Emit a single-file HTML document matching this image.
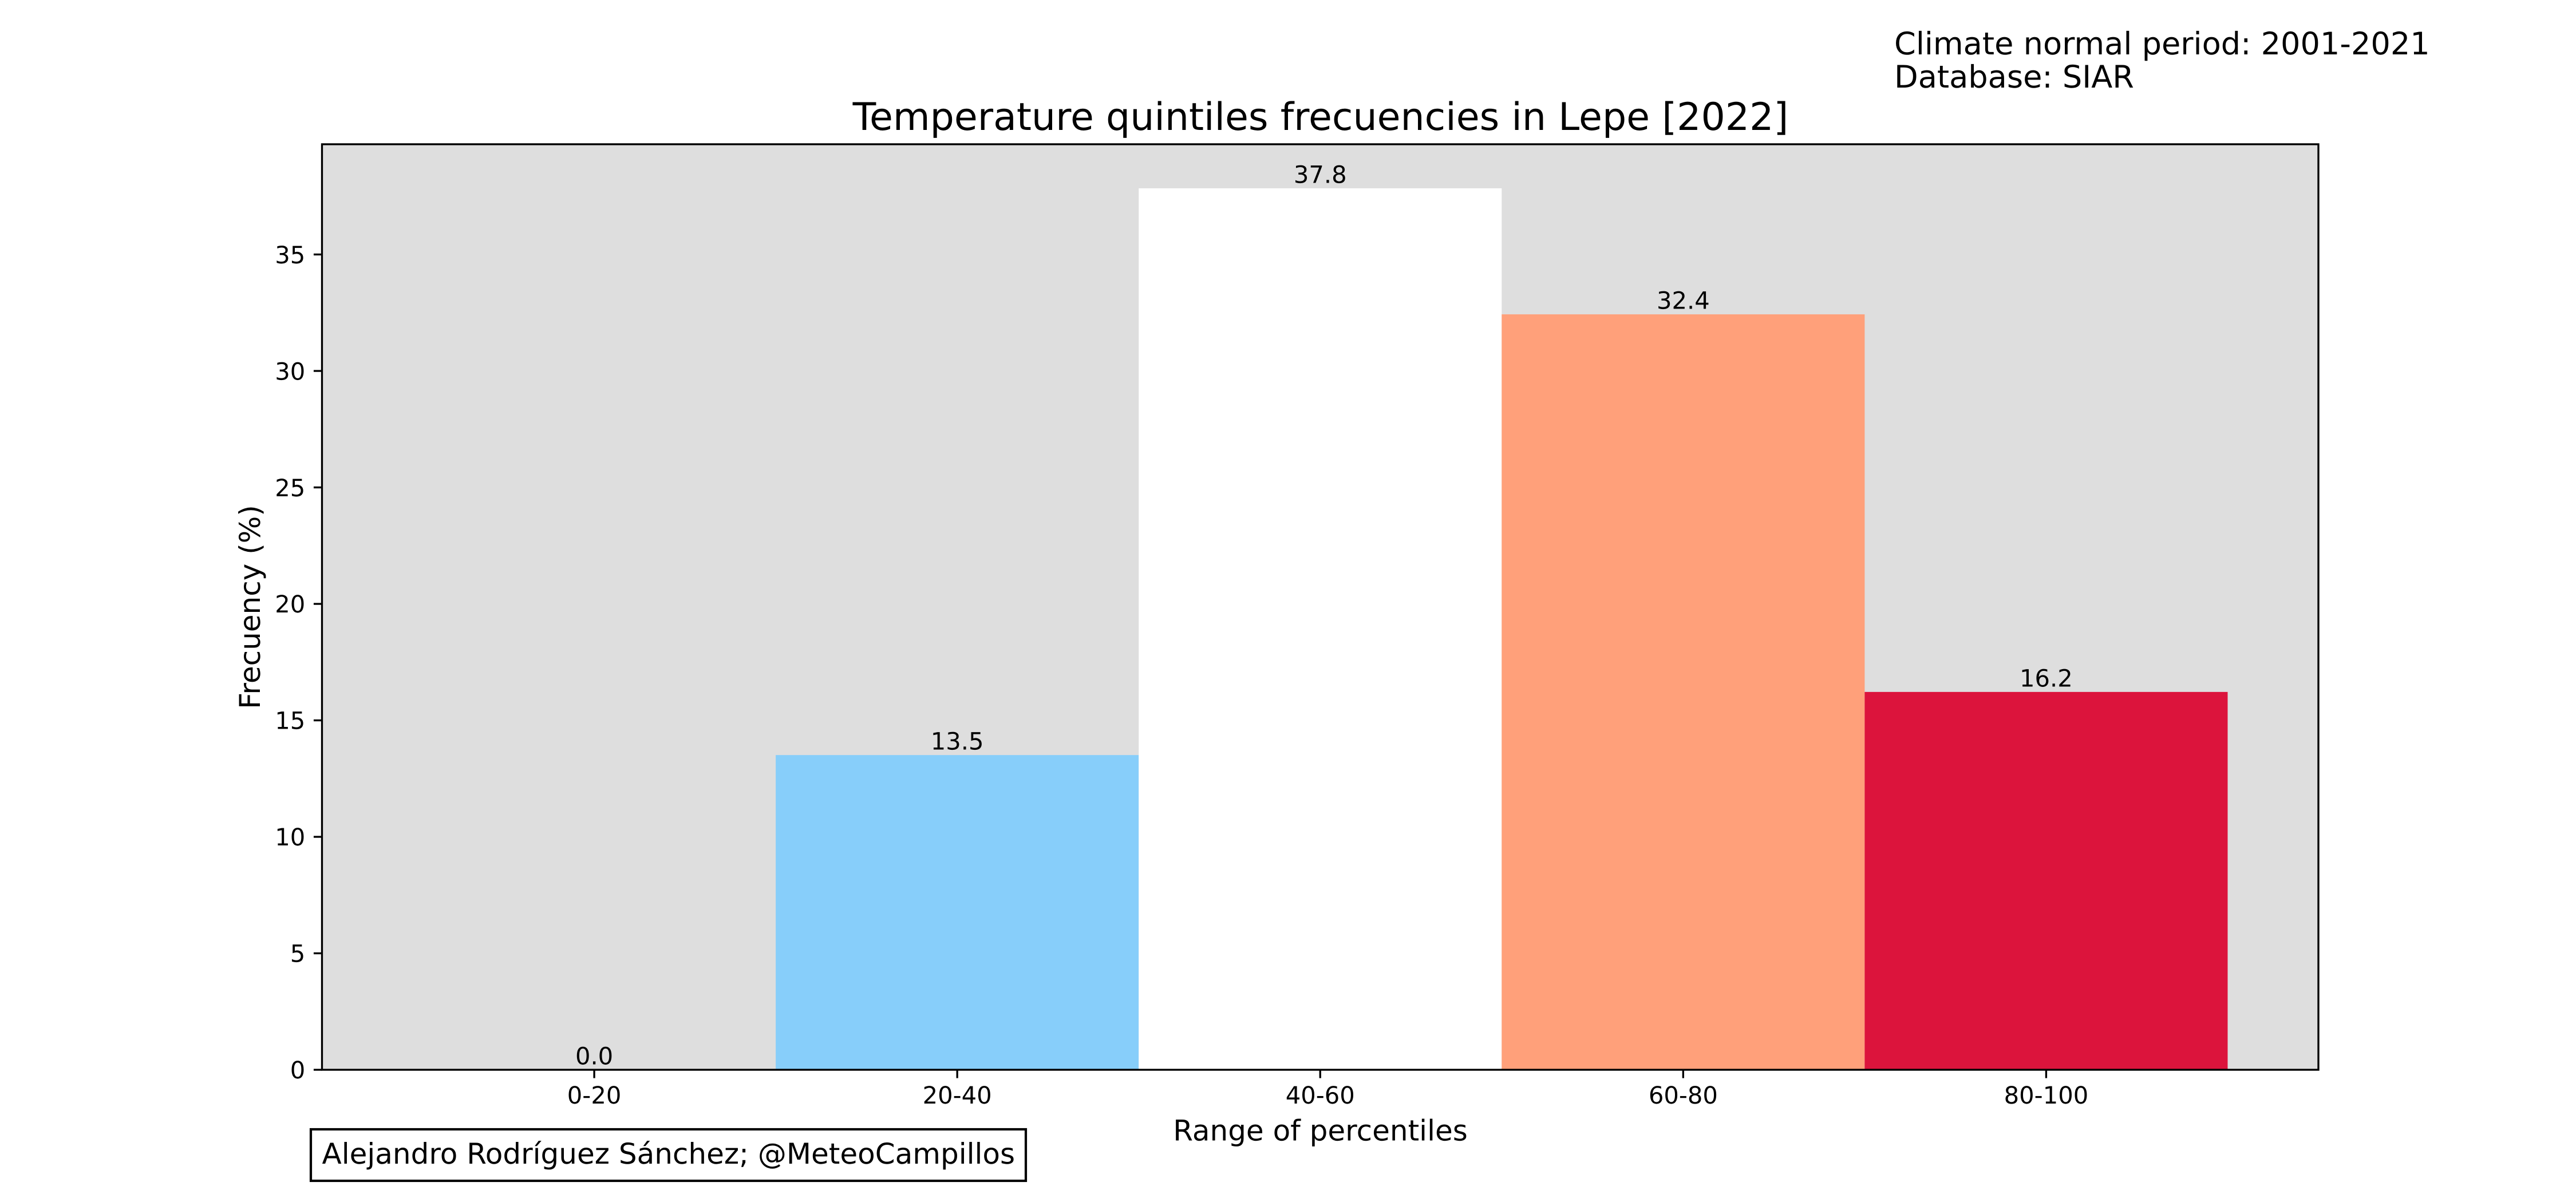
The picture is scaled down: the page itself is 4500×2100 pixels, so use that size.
<!DOCTYPE html>
<html lang="en">
<head>
<meta charset="utf-8">
<title>Temperature quintiles frecuencies in Lepe [2022]</title>
<style>
html,body{margin:0;padding:0;background:#fff;width:4500px;height:2100px;overflow:hidden}
svg{display:block}
text{font-family:"DejaVu Sans","Liberation Sans",sans-serif;fill:#000;text-rendering:geometricPrecision}
.tick-label,.value-label{font-size:41.67px}
.axis-title{font-size:50px}
.note{font-size:54.17px}
.credit{font-size:50px}
.bar-0{fill:#00008b}.bar-1{fill:#87cefa}.bar-2{fill:#ffffff}.bar-3{fill:#ffa07a}.bar-4{fill:#dc143c}
</style>
</head>
<body>
<svg xmlns="http://www.w3.org/2000/svg" width="4500" height="2100" viewBox="0 0 4500 2100">
  <rect x="562.5" y="252" width="3487.5" height="1617" fill="#dedede"/>
  <g id="bars"></g>
  <g id="value-labels"></g>
  <g id="x-axis"></g>
  <g id="y-axis"></g>
  <rect x="562.5" y="252" width="3487.5" height="1617" fill="none" stroke="#000" stroke-width="3.33"/>
  <text x="2307" y="227" text-anchor="middle" font-size="66.5">Temperature quintiles frecuencies in Lepe [2022]</text>
  <text x="2306.5" y="1992.5" text-anchor="middle" class="axis-title">Range of percentiles</text>
  <text transform="translate(454 1060.5) rotate(-90)" text-anchor="middle" class="axis-title">Frecuency (%)</text>
  <text x="3309" y="95" class="note">Climate normal period: 2001-2021</text>
  <text x="3309" y="153" class="note">Database: SIAR</text>
  <rect x="543" y="1973" width="1249" height="90" fill="#fff" stroke="#000" stroke-width="4.17"/>
  <text x="562.5" y="2033" class="credit">Alejandro Rodríguez Sánchez; @MeteoCampillos</text>
</svg>
<script>
const categories = ["0-20", "20-40", "40-60", "60-80", "80-100"];
const frequencies = [0, 13.51, 37.84, 32.43, 16.22];
const yTicks = [0, 5, 10, 15, 20, 25, 30, 35];

const NS = "http://www.w3.org/2000/svg";
const plot = { left: 562.5, right: 4050, top: 252, bottom: 1869 };
const xMin = -0.5 - 0.05 * categories.length;
const xMax = categories.length - 0.5 + 0.05 * categories.length;
const yMax = Math.max(...frequencies) * 1.05;

function xScale(v) {
  return plot.left + (v - xMin) / (xMax - xMin) * (plot.right - plot.left);
}
function yScale(v) {
  return plot.bottom - v / yMax * (plot.bottom - plot.top);
}
function make(tag, attrs, parent, content) {
  const el = document.createElementNS(NS, tag);
  Object.keys(attrs).forEach(function (k) { el.setAttribute(k, attrs[k]); });
  if (content !== undefined) el.textContent = content;
  parent.appendChild(el);
  return el;
}

const barsGroup = document.getElementById("bars");
const labelsGroup = document.getElementById("value-labels");
const xAxisGroup = document.getElementById("x-axis");
const yAxisGroup = document.getElementById("y-axis");

categories.forEach(function (cat, i) {
  const v = frequencies[i];
  const bar = make("rect", {
    x: xScale(i - 0.5),
    y: yScale(v),
    width: xScale(i + 0.5) - xScale(i - 0.5),
    height: yScale(0) - yScale(v),
    class: "bar-" + i
  }, barsGroup);
  
  

  const label = make("text", {
    x: xScale(i),
    y: yScale(v) - 9.5,
    "text-anchor": "middle",
    class: "value-label"
  }, labelsGroup, v.toFixed(1));
  
  

  const tick = make("line", {
    x1: xScale(i), x2: xScale(i),
    y1: plot.bottom, y2: plot.bottom + 14.58,
    stroke: "#000", "stroke-width": 3.33
  }, xAxisGroup);
  
  

  const tickLabel = make("text", {
    x: xScale(i),
    y: 1928,
    "text-anchor": "middle",
    class: "tick-label"
  }, xAxisGroup, cat);
  
  
});

yTicks.forEach(function (t) {
  const tick = make("line", {
    x1: plot.left - 14.58, x2: plot.left,
    y1: yScale(t), y2: yScale(t),
    stroke: "#000", "stroke-width": 3.33
  }, yAxisGroup);
  
  

  const tickLabel = make("text", {
    x: plot.left - 29.2,
    y: yScale(t) + 15.2,
    "text-anchor": "end",
    class: "tick-label"
  }, yAxisGroup, String(t));
  
  
});
</script>
</body>
</html>
